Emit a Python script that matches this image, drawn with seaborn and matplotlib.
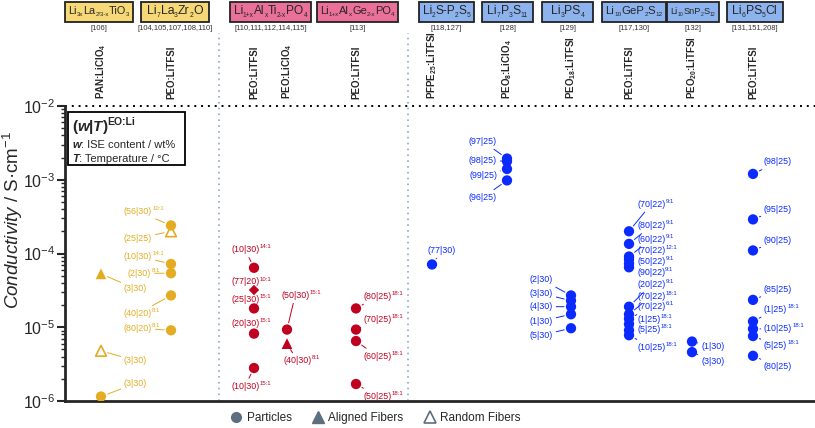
import re
import matplotlib
matplotlib.use('Agg')
import matplotlib.pyplot as plt
import matplotlib.transforms as mtransforms
from matplotlib.lines import Line2D
from matplotlib.patches import Rectangle
from matplotlib.text import Text, Annotation
import seaborn as sns
import pandas as pd
import numpy as np

### Global settings ###
sns.set_style('ticks')
plt.rcParams['font.family'] = ['Liberation Sans', 'DejaVu Sans']
plt.rcParams['mathtext.fontset'] = 'custom'
plt.rcParams['mathtext.rm'] = 'Liberation Sans'
plt.rcParams['mathtext.it'] = 'Liberation Sans:italic'
plt.rcParams['mathtext.bf'] = 'Liberation Sans:bold'
plt.rcParams['mathtext.default'] = 'regular'

### Data (conductivity in S/cm, wt = (w|T), eo = EO:Li ratio) ###
# Li3xLa2/3-xTiO3, PAN:LiClO4
llto_sig = [5.3e-5, 4.8e-6, 1.15e-6]
llto_wt = ['3|30', '3|30', '3|30']
llto_eo = ['', '', '']
llto_kind = ['aligned', 'random', 'particle']

# Li7La3Zr2O12, PEO:LiTFSI
llzo_sig = [2.4e-4, 2.0e-4, 7.2e-5, 5.4e-5, 2.7e-5, 9.1e-6]
llzo_wt = ['56|30', '25|25', '10|30', '2|30', '40|20', '80|20']
llzo_eo = ['10:1', '', '14:1', '8:1', '8:1', '8:1']
llzo_kind = ['particle', 'random', 'particle', 'particle', 'particle', 'particle']

# LATP, PEO:LiTFSI
latp1_sig = [6.4e-5, 3.2e-5, 1.8e-5, 8.2e-6, 2.8e-6]
latp1_wt = ['10|30', '77|20', '25|30', '20|30', '10|30']
latp1_eo = ['14:1', '10:1', '15:1', '15:1', '15:1']
latp1_kind = ['particle', 'other', 'particle', 'particle', 'particle']

# LATP, PEO:LiClO4
latp2_sig = [9.3e-6, 6.0e-6]
latp2_wt = ['50|30', '40|30']
latp2_eo = ['15:1', '8:1']
latp2_kind = ['particle', 'aligned']

# LAGP, PEO:LiTFSI
lagp_sig = [1.8e-5, 9.3e-6, 6.5e-6, 1.7e-6]
lagp_wt = ['80|25', '70|25', '60|25', '50|25']
lagp_eo = ['18:1', '18:1', '18:1', '18:1']
lagp_kind = ['particle'] * 4

# Li2S-P2S5, PFPE:LiTFSI
lps_sig = [7.1e-5]
lps_wt = ['77|30']
lps_eo = ['']
lps_kind = ['particle']

# Li7P3S11, PEO8:LiClO4
lpsb_sig = [1.94e-3, 1.78e-3, 1.4e-3, 9.8e-4]
lpsb_wt = ['97|25', '98|25', '99|25', '96|25']
lpsb_eo = ['', '', '', '']
lpsb_kind = ['particle'] * 4

# Li3PS4, PEO18:LiTFSI
lpsc_sig = [2.7e-5, 2.3e-5, 1.9e-5, 1.5e-5, 9.7e-6]
lpsc_wt = ['2|30', '3|30', '4|30', '1|30', '5|30']
lpsc_eo = ['', '', '', '', '']
lpsc_kind = ['particle'] * 5

# Li10GeP2S12, PEO:LiTFSI
lgps_sig = [2.0e-4, 1.35e-4, 9.1e-5, 8.3e-5, 7.3e-5, 6.5e-5,
            1.9e-5, 1.5e-5, 1.3e-5, 1.1e-5, 9.1e-6, 7.8e-6]
lgps_wt = ['70|22', '80|22', '60|22', '70|22', '50|22', '90|22',
           '20|22', '70|22', '70|22', '1|25', '5|25', '10|25']
lgps_eo = ['9:1', '9:1', '9:1', '12:1', '9:1', '9:1',
           '9:1', '18:1', '6:1', '18:1', '18:1', '18:1']
lgps_kind = ['particle'] * 12

# Li10SnP2S12, PEO20:LiTFSI
lsps_sig = [6.4e-6, 4.6e-6]
lsps_wt = ['1|30', '3|30']
lsps_eo = ['', '']
lsps_kind = ['particle'] * 2

# Li6PS5Cl, PEO:LiTFSI
lpscl_sig = [1.2e-3, 2.9e-4, 1.1e-4, 2.35e-5, 1.2e-5, 9.5e-6, 7.6e-6, 4.1e-6]
lpscl_wt = ['98|25', '95|25', '90|25', '85|25', '1|25', '10|25', '5|25', '80|25']
lpscl_eo = ['', '', '', '', '18:1', '18:1', '18:1', '']
lpscl_kind = ['particle'] * 8

families = ['oxide', 'oxide', 'nasicon', 'nasicon', 'nasicon',
            'sulfide', 'sulfide', 'sulfide', 'sulfide', 'sulfide', 'sulfide']
polymers = ['PAN:LiClO$_4$', 'PEO:LiTFSI', 'PEO:LiTFSI', 'PEO:LiClO$_4$', 'PEO:LiTFSI',
            'PFPE$_{25}$:LiTFSI', 'PEO$_8$:LiClO$_4$', 'PEO$_{18}$:LiTFSI', 'PEO:LiTFSI',
            'PEO$_{20}$:LiTFSI', 'PEO:LiTFSI']
ceramics = [r'Li$_{3x}$La$_{2/3-x}$TiO$_3$', r'Li$_7$La$_3$Zr$_2$O',
            r'Li$_{1+x}$Al$_x$Ti$_{2-x}$PO$_4$', r'Li$_{1+x}$Al$_x$Ge$_{2-x}$PO$_4$',
            r'Li$_2$S-P$_2$S$_5$', r'Li$_7$P$_3$S$_{11}$', r'Li$_3$PS$_4$',
            r'Li$_{10}$GeP$_2$S$_{12}$', r'Li$_{10}$SnP$_2$S$_{12}$', r'Li$_6$PS$_5$Cl']
refs = ['[106]', '[104,105,107,108,110]', '[110,111,112,114,115]', '[113]',
        '[118,127]', '[128]', '[129]', '[117,130]', '[132]', '[131,151,208]']

### Layout (column positions, header boxes, label offsets in pixels) ###
col_x = [36, 106, 189, 222, 291, 367, 442, 506, 564, 627, 688]
box_span = [(0, 68), (76, 144), (165, 246), (252, 333), (354, 409),
            (417, 468), (477, 528), (537, 601), (602, 654), (662, 718)]
divider_x = [154, 343]
label_off = [
    [(23, 15, 'left'), (23, 10, 'left'), (23, -13, 'left')],
    [(-47, -14, 'left'), (-47, 7, 'left'), (-47, -8, 'left'), (-43, 0, 'left'),
     (-47, 18, 'left'), (-47, -2, 'left')],
    [(-23, -18, 'left'), (-23, -8, 'left'), (-23, -9, 'left'), (-23, -10, 'left'), (-23, 18, 'left')],
    [(-6, -34, 'left'), (-4, 17, 'left')],
    [(7, -12, 'left'), (7, -10, 'left'), (7, 15, 'left'), (7, 12, 'left')],
    [(-4, -14, 'left')],
    [(-10, -17, 'right'), (-10, -1, 'right'), (-10, 7, 'right'), (-10, 17, 'right')],
    [(-18, -16, 'right'), (-18, -7, 'right'), (-18, 0, 'right'), (-18, 7, 'right'), (-18, 7, 'right')],
    [(8, -27, 'left'), (8, -18, 'left'), (8, -17, 'left'), (8, -9, 'left'), (8, -2, 'left'),
     (8, 5, 'left'), (8, -22, 'left'), (8, -18, 'left'), (8, -12, 'left'), (8, -5, 'left'),
     (8, -1, 'left'), (8, 12, 'left')],
    [(9, 5, 'left'), (9, 9, 'left')],
    [(11, -12, 'left'), (11, -10, 'left'), (11, -10, 'left'), (11, -10, 'left'),
     (11, -12, 'left'), (11, 0, 'left'), (11, 9, 'left'), (11, 11, 'left')],
]

palette = {'oxide': '#E3AC22', 'nasicon': '#C0001E', 'sulfide': '#0A2AFF'}
box_colors = ['#F6D976', '#F6D976', '#EA7099', '#EA7099'] + ['#8DB3EE'] * 6

columns = [
    (llto_sig, llto_wt, llto_eo, llto_kind),
    (llzo_sig, llzo_wt, llzo_eo, llzo_kind),
    (latp1_sig, latp1_wt, latp1_eo, latp1_kind),
    (latp2_sig, latp2_wt, latp2_eo, latp2_kind),
    (lagp_sig, lagp_wt, lagp_eo, lagp_kind),
    (lps_sig, lps_wt, lps_eo, lps_kind),
    (lpsb_sig, lpsb_wt, lpsb_eo, lpsb_kind),
    (lpsc_sig, lpsc_wt, lpsc_eo, lpsc_kind),
    (lgps_sig, lgps_wt, lgps_eo, lgps_kind),
    (lsps_sig, lsps_wt, lsps_eo, lsps_kind),
    (lpscl_sig, lpscl_wt, lpscl_eo, lpscl_kind),
]

rows = []
for i, (sig, wt, eo, kind) in enumerate(columns):
    for j in range(len(sig)):
        dx, dy, ha = label_off[i][j]
        rows.append(dict(x=col_x[i], sigma=sig[j], wt=wt[j], eo=eo[j], kind=kind[j],
                         family=families[i], dx=dx, dy=dy, ha=ha))
df = pd.DataFrame(rows)


def box_of(a, renderer):
    # bbox of the text only (without any leader line)
    if isinstance(a, Annotation):
        a.update_positions(renderer)
        return Text.get_window_extent(a, renderer)
    return a.get_window_extent(renderer)


def after(prev, first):
    # box with the x-range of prev and the y-range of first
    def f(renderer):
        bp = box_of(prev, renderer)
        bf = box_of(first, renderer)
        return mtransforms.Bbox.from_extents(bp.x0, bf.y0, bp.x1, bf.y1)
    return f


def rich_text(ax, x, y, parts):
    t = ax.text(x, y, parts[0][0], transform=ax.transAxes, va='bottom', ha='left',
                zorder=6, **parts[0][1])
    for s, kw in parts[1:]:
        kw = dict(kw)
        rel = kw.pop('rel', 0)
        t = ax.annotate(s, xy=(1, rel), xycoords=t, va='bottom', ha='left', zorder=6, **kw)


def formula(ax, xc, y, s, width, trans, renderer, big=8.8, small=4.9):
    pieces = re.split(r'\$_\{?([^$}]*)\}?\$', s)
    first = ax.text(xc, y, pieces[0], transform=trans, ha='left', va='center',
                    fontsize=big, clip_on=False)
    arts = [(first, big)]
    prev = first
    for k, p in enumerate(pieces[1:], start=1):
        if not p:
            continue
        sub = k % 2 == 1
        fs = small if sub else big
        prev = ax.annotate(p, xy=(1, -0.1 if sub else 0), xycoords=after(prev, first),
                           ha='left', va='bottom', fontsize=fs, annotation_clip=False)
        arts.append((prev, fs))
    w = box_of(prev, renderer).x1 - box_of(first, renderer).x0
    if w > width - 7:
        scale = (width - 7) / w
        for a, fs in arts:
            a.set_fontsize(fs * scale)
        w = box_of(prev, renderer).x1 - box_of(first, renderer).x0
    first.set_x(xc - w / 2)


fig = plt.figure(figsize=(8.15, 4.28), dpi=100)
ax = fig.add_axes([65 / 815, 1 - 401 / 428, 750 / 815, 295 / 428])
ax.set_yscale('log')

for kind, marker, size in [('particle', 'o', 55), ('aligned', '^', 60), ('other', 'D', 28)]:
    sub = df[df['kind'] == kind]
    sns.scatterplot(data=sub, x='x', y='sigma', hue='family', palette=palette, marker=marker,
                    s=size, edgecolor='none', linewidth=0, legend=False, ax=ax, zorder=3)
for fam, g in df[df['kind'] == 'random'].groupby('family'):
    sns.scatterplot(data=g, x='x', y='sigma', marker='^', s=60, color=palette[fam],
                    facecolor='none', edgecolor=palette[fam], linewidth=1.2,
                    legend=False, ax=ax, zorder=3)

# Point labels with leader lines, EO:Li ratio as small superscript
for r in df.itertuples():
    c = palette[r.family]
    lab = ax.annotate(f'({r.wt})', xy=(r.x, r.sigma), xytext=(r.dx, -r.dy),
                      textcoords='offset pixels', ha=r.ha, va='center', fontsize=6.4, color=c,
                      arrowprops=dict(arrowstyle='-', color=c, lw=0.7, shrinkA=0, shrinkB=5))
    if r.eo:
        ax.annotate(r.eo, xy=(1, 0.55), xycoords=after(lab, lab), ha='left', va='bottom',
                    fontsize=4.3, color=c)

ax.set_xlim(0, 750)
ax.set_ylim(1e-6, 1e-2)
ax.set_xticks([])
ax.set_xlabel('')
ax.set_ylabel(r'$\mathit{Conductivity}$ / S·cm$^{-1}$', fontsize=13.5)
ax.yaxis.set_label_coords(-0.053, 0.614)
ax.tick_params(axis='y', which='major', length=6, width=1.5, labelsize=11.5, pad=1)
ax.tick_params(axis='y', which='minor', length=3, width=1)

for s in ['top', 'right']:
    ax.spines[s].set_visible(False)
for s in ['left', 'bottom']:
    ax.spines[s].set_linewidth(2)

ax.axhline(1e-2, color='k', ls=(0, (1, 2.5)), lw=1.4, clip_on=False)
blend = mtransforms.blended_transform_factory(ax.transData, ax.transAxes)
for dxv in divider_x:
    ax.plot([dxv, dxv], [0, 1.247], transform=blend, clip_on=False,
            color='#8FA8C8', ls=(0, (1, 2.5)), lw=1.2)

# Header: ceramic boxes, references, polymer labels
htrans = mtransforms.blended_transform_factory(ax.transData, fig.transFigure)
renderer = fig.canvas.get_renderer()
for (x0, x1), name, ref, fc in zip(box_span, ceramics, refs, box_colors):
    ax.add_patch(Rectangle((x0, 1 - 22 / 428), x1 - x0, 20 / 428, transform=htrans,
                           fc=fc, ec='#222222', lw=1.3, clip_on=False))
    formula(ax, (x0 + x1) / 2, 1 - 11.5 / 428, name, x1 - x0, htrans, renderer)
    ax.text((x0 + x1) / 2, 1 - 29 / 428, ref, transform=htrans, ha='center', va='center',
            fontsize=5.5, color='#333333', clip_on=False)
for xc, poly in zip(col_x, polymers):
    ax.text(xc, 1 - 99 / 428, poly, transform=htrans, ha='center', va='bottom', rotation=90,
            fontsize=7, fontweight='bold', clip_on=False)

# Upper-left key box
ax.add_patch(Rectangle((0.004, 0.80), 0.156, 0.18, transform=ax.transAxes,
                       fc='white', ec='black', lw=1.3, zorder=5))
bi = dict(fontweight='bold', fontstyle='italic')
b = dict(fontweight='bold')
rich_text(ax, 0.0093, 0.905, [('(', dict(b, fontsize=11)), ('w', dict(bi, fontsize=11)),
                              ('|', dict(b, fontsize=11)), ('T', dict(bi, fontsize=11)),
                              (')', dict(b, fontsize=11)),
                              ('EO:Li', dict(b, fontsize=7.5, rel=0.5))])
rich_text(ax, 0.0093, 0.85, [('w', dict(bi, fontsize=8)), (': ISE content / wt%', dict(fontsize=8))])
rich_text(ax, 0.0093, 0.805, [('T', dict(bi, fontsize=8)), (': Temperature / °C', dict(fontsize=8))])

# Bottom morphology legend
grey = '#5C6F81'
handles = [
    Line2D([], [], marker='o', ls='', color=grey, markersize=7),
    Line2D([], [], marker='^', ls='', color=grey, markersize=8),
    Line2D([], [], marker='^', ls='', markerfacecolor='none', markeredgecolor=grey,
           markeredgewidth=1.2, markersize=8),
]
fig.legend(handles, ['Particles', 'Aligned Fibers', 'Random Fibers'], loc='center',
           bbox_to_anchor=(0.46, 1 - 418 / 428), ncol=3, frameon=False, fontsize=8.5,
           handletextpad=0.3, columnspacing=1.6, handlelength=1.2)

fig.savefig('out.png', dpi=100, facecolor='white')
plt.close()
